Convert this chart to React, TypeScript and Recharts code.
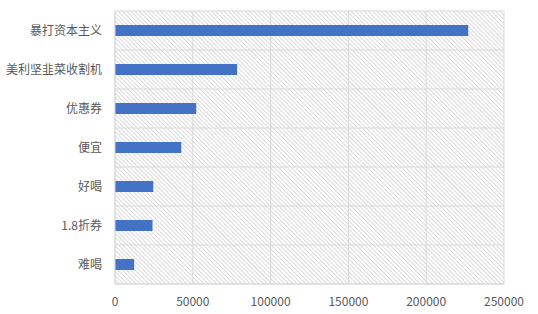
import React from "react";
import { BarChart, Bar, XAxis, YAxis, CartesianGrid } from "recharts";

const categories = ["暴打资本主义", "美利坚韭菜收割机", "优惠券", "便宜", "好喝", "1.8折券", "难喝"];
const counts = [227000, 78500, 52200, 42600, 24600, 24100, 12300];
const xTicks = [0, 50000, 100000, 150000, 200000, 250000];

const data = categories.map((name, i) => ({ name, value: counts[i] }));

const gridColor = "#d9d9d9";
const textColor = "#595959";
const font = "'Noto Sans CJK SC', 'Noto Sans', sans-serif";

const App = () => {
  return (
    <div style={{ position: "absolute", left: 0, top: 0, background: "#fff" }}>
      <BarChart
        width={538}
        height={314}
        data={data}
        layout="vertical"
        margin={{ top: 11, right: 34, left: 0, bottom: 0 }}
      >
        <defs>
          <pattern
            id="hatch"
            patternUnits="userSpaceOnUse"
            width={3}
            height={3}
            patternTransform="rotate(-45)"
          >
            <rect width={3} height={3} fill="#fff" />
            <line x1={0.5} y1={0} x2={0.5} y2={3} stroke="#dadada" strokeWidth={1} />
          </pattern>
        </defs>
        <CartesianGrid
          stroke={gridColor}
          fill="url(#hatch)"
          fillOpacity={1}
          horizontalCoordinatesGenerator={({ offset }: any) =>
            categories
              .concat([""])
              .map((_, i) => offset.top + (i * offset.height) / categories.length)
          }
        />
        <XAxis
          type="number"
          domain={[0, 250000]}
          ticks={xTicks}
          axisLine={{ stroke: gridColor }}
          tickLine={false}
          tickSize={0}
          tickMargin={13}
          height={30}
          tick={{ fill: textColor, fontSize: 12, fontFamily: font }}
        />
        <YAxis
          type="category"
          dataKey="name"
          width={115}
          axisLine={{ stroke: gridColor }}
          tickLine={false}
          tickSize={0}
          tickMargin={13}
          interval={0}
          tick={{ fill: textColor, fontSize: 12, fontFamily: font }}
        />
        <Bar dataKey="value" fill="#4472c4" barSize={11} isAnimationActive={false} />
      </BarChart>
    </div>
  );
};

export default App;
